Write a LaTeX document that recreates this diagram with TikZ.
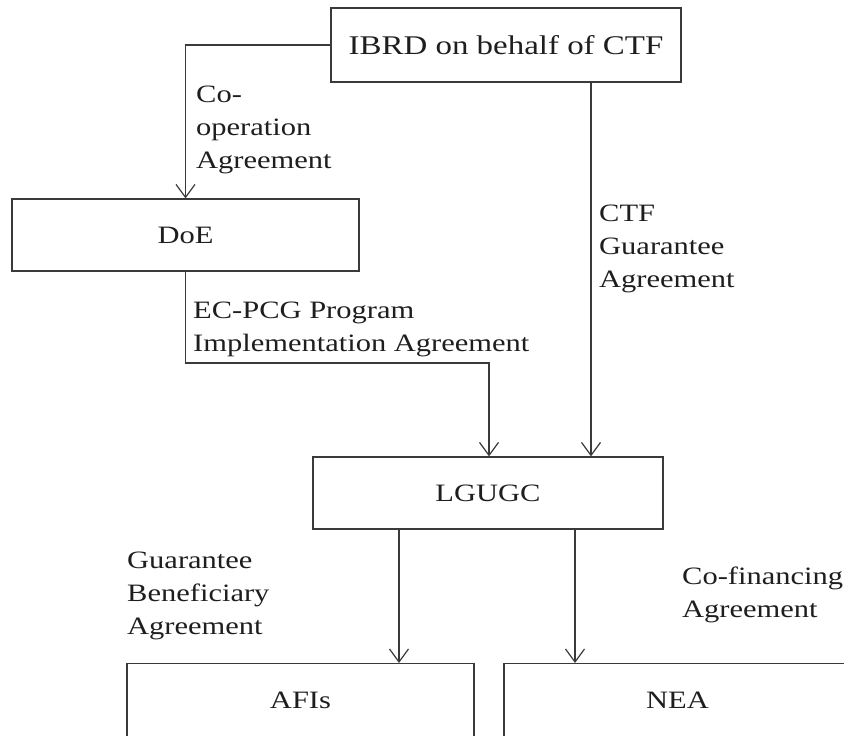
\documentclass[tikz,border=0pt]{standalone}
\usepackage{fontspec}
\newfontfamily\diagfont{Liberation Serif}[FakeStretch=1.22]
\usetikzlibrary{arrows.meta}
\definecolor{linec}{HTML}{3A3A3A}
\definecolor{txtc}{HTML}{1E1E1E}
\begin{document}
\begin{tikzpicture}[x=1pt,y=-1pt,
  box/.style={draw=linec, line width=1.2pt, rectangle, inner sep=0pt, text=txtc, font=\diagfont\fontsize{25}{33}\selectfont},
  lbl/.style={inner sep=0pt, align=left, anchor=base west, text=txtc, font=\diagfont\fontsize{25}{33}\selectfont},
  arr/.style={draw=linec, line width=1.2pt, -{Straight Barb[length=13pt,width=19pt,line width=1.2pt]}}
]
\useasboundingbox (0,0) rectangle (844,736);
\clip (0,0) rectangle (844,736);
% boxes
\node[box, minimum width=350pt, minimum height=74pt] (ibrd) at (506,45) {\fontsize{27}{30}\selectfont IBRD on behalf of CTF};
\node[box, minimum width=347pt, minimum height=72pt] (doe) at (185.5,235) {DoE};
\node[box, minimum width=350pt, minimum height=72pt] (lgugc) at (488,493) {LGUGC};
\node[box, anchor=north, minimum width=347pt, text height=45pt, text depth=45pt] (afi) at (300.5,663) {AFIs};
\node[box, anchor=north, minimum width=347pt, text height=45pt, text depth=45pt] (nea) at (677.5,663) {NEA};
% helper coordinates
\coordinate (xa) at (591,0);
\coordinate (xb) at (489,363);
\coordinate (xc) at (399,0);
\coordinate (xd) at (575,0);
% connectors
\draw[arr] (ibrd.west) -| (doe.north);
\draw[arr] (ibrd.south -| xa) -- (lgugc.north -| xa);
\draw[arr] (doe.south) |- (xb) -- (lgugc.north -| xb);
\draw[arr] (lgugc.south -| xc) -- (afi.north -| xc);
\draw[arr] (lgugc.south -| xd) -- (nea.north -| xd);
% labels (anchored at the baseline of their last line)
\node[lbl] (l1) at (196,168) {Co-\\operation\\Agreement};
\node[lbl] (l2) at (599,287) {CTF\\Guarantee\\Agreement};
\node[lbl] (l3) at (193,351) {EC-PCG Program\\Implementation Agreement};
\node[lbl] (l4) at (127,634) {Guarantee\\Beneficiary\\Agreement};
\node[lbl] (l5) at (682,617) {Co-financing\\Agreement};
\end{tikzpicture}
\end{document}
